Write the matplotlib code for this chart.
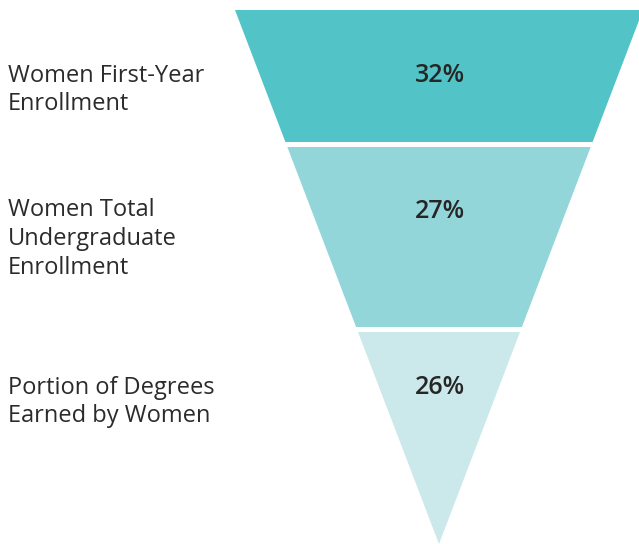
import matplotlib.pyplot as plt
from matplotlib.patches import Polygon

plt.rcParams['font.family'] = ['Open Sans', 'DejaVu Sans']

stages = ['Women First-Year\nEnrollment',
          'Women Total\nUndergraduate\nEnrollment',
          'Portion of Degrees\nEarned by Women']
values = [32, 27, 26]
colors = ['#52c3c6', '#93d6da', '#cbe8ea']

# funnel layout in pixel coords (inverted triangle)
top_y, tip_y = 10, 544
center_x, half_w = 439, 204
seg_edges = [(10, 142), (147, 327), (332, 544)]
value_y = [75, 211, 388]
label_y = [90, 239, 402]


def half_width(y):
    return half_w * (tip_y - y) / (tip_y - top_y)


fig = plt.figure(figsize=(6.39, 5.44), dpi=100)
ax = fig.add_axes([0, 0, 1, 1])
ax.set_xlim(0, 639)
ax.set_ylim(544, 0)
ax.axis('off')

for i in range(len(values)):
    y0, y1 = seg_edges[i]
    w0, w1 = half_width(y0), half_width(y1)
    pts = [(center_x - w0, y0), (center_x + w0, y0),
           (center_x + w1, y1), (center_x - w1, y1)]
    ax.add_patch(Polygon(pts, closed=True, facecolor=colors[i], edgecolor='none'))
    ax.text(center_x + 1, value_y[i], f'{values[i]}%', ha='center', va='center',
            fontsize=18, fontweight='semibold', color='#262626')
    ax.text(8, label_y[i], stages[i], ha='left', va='center',
            fontsize=17, color='#2b2b2b', linespacing=1.25)

fig.savefig('out.png', dpi=100)
